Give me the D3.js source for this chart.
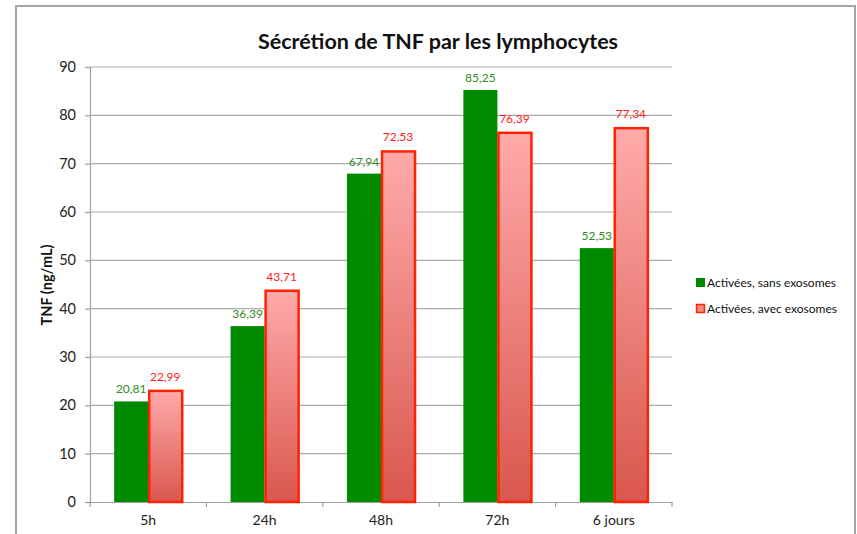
<!DOCTYPE html>
<html><head><meta charset="utf-8">
<script src="https://cdn.jsdelivr.net/npm/d3@7"></script>
<style>body{margin:0;background:#fff}svg{display:block}text{font-family:Lato,"Open Sans",sans-serif}</style>
</head><body><svg id="c" width="857" height="534"></svg>
<script>
const categories = ["5h","24h","48h","72h","6 jours"];
const seriesNames = ["Activées, sans exosomes","Activées, avec exosomes"];
const sansExosomes = [20.81,36.39,67.94,85.25,52.53];
const avecExosomes = [22.99,43.71,72.53,76.39,77.34];
const yTicks = [0,10,20,30,40,50,60,70,80,90];
const labelsSans = ["20,81","36,39","67,94","85,25","52,53"];
const labelsAvec = ["22,99","43,71","72,53","76,39","77,34"];

const svg = d3.select("#c");
const defs = svg.append("defs");
const g = defs.append("linearGradient").attr("id","redgrad").attr("x1",0).attr("y1",0).attr("x2",0).attr("y2",1);
g.append("stop").attr("offset","0%").attr("stop-color","#FFAAAA");
g.append("stop").attr("offset","100%").attr("stop-color","#D9574E");

// outer border
svg.append("rect").attr("x",16).attr("y",6).attr("width",839).attr("height",560)
  .attr("fill","none").attr("stroke","#A6A6A6").attr("stroke-width",2);

const x = d3.scaleBand().domain(categories).range([90,672]).padding(0);
const xs = d3.scaleBand().domain(seriesNames).range([0,x.bandwidth()]).paddingInner(0).paddingOuter(0.71);
const y = d3.scaleLinear().domain([0,90]).range([502,67]);

// gridlines
svg.append("g").selectAll("line").data(yTicks.filter(t=>t>0)).join("line")
  .attr("x1",90).attr("x2",672).attr("y1",d=>y(d)).attr("y2",d=>y(d))
  .attr("stroke","#ABABAB").attr("stroke-width",1.2);

// y axis
const ya = svg.append("g").attr("transform","translate(90,0)")
  .call(d3.axisLeft(y).tickValues(yTicks).tickSize(5).tickPadding(9).tickFormat(d3.format("d")));
ya.select(".domain").attr("stroke","#A0A0A0").attr("stroke-width",1.2);
ya.selectAll(".tick line").attr("stroke","#A0A0A0").attr("stroke-width",1.2);
ya.selectAll("text").attr("font-size",14.5).attr("fill","#222").style("font-family","Lato,sans-serif");

// x axis
const xa = svg.append("g").attr("transform","translate(0,502)")
  .call(d3.axisBottom(x).tickSize(0).tickPadding(13));
xa.select(".domain").attr("stroke","#A0A0A0").attr("stroke-width",1.2);
xa.selectAll(".tick line").remove();
xa.selectAll("text").attr("font-size",14).attr("fill","#222").style("font-family","Lato,sans-serif");
svg.append("g").selectAll("line").data(d3.range(categories.length+1)).join("line")
  .attr("x1",i=>90+i*x.step()).attr("x2",i=>90+i*x.step()).attr("y1",502).attr("y2",507)
  .attr("stroke","#A0A0A0").attr("stroke-width",1.2);

// bars
const sw = xs.bandwidth();
svg.append("g").selectAll("rect").data(categories).join("rect")
  .attr("x",(c)=>x(c)+xs(seriesNames[0]))
  .attr("y",(c,i)=>y(sansExosomes[i]))
  .attr("width",sw).attr("height",(c,i)=>502-y(sansExosomes[i]))
  .attr("fill","#008A00");
svg.append("g").selectAll("rect").data(categories).join("rect")
  .attr("x",(c)=>x(c)+xs(seriesNames[1])+1)
  .attr("y",(c,i)=>y(avecExosomes[i]))
  .attr("width",sw-1).attr("height",(c,i)=>502-y(avecExosomes[i]))
  .attr("fill","url(#redgrad)").attr("stroke","#FF2200").attr("stroke-width",2.5);

// labels
svg.append("g").selectAll("text").data(categories).join("text")
  .attr("x",c=>x(c)+xs(seriesNames[0])+sw/2)
  .attr("y",(c,i)=>y(sansExosomes[i])-8)
  .attr("text-anchor","middle").attr("font-size",12).attr("fill","#2E8B22")
  .text((c,i)=>labelsSans[i]);
svg.append("g").selectAll("text").data(categories).join("text")
  .attr("x",c=>x(c)+xs(seriesNames[1])+sw/2)
  .attr("y",(c,i)=>y(avecExosomes[i])-10)
  .attr("text-anchor","middle").attr("font-size",12).attr("fill","#FF1A1A")
  .text((c,i)=>labelsAvec[i]);

// title
svg.append("text").attr("x",438).attr("y",49).attr("text-anchor","middle")
  .attr("font-size",21.5).attr("font-weight","bold").attr("fill","#111")
  .text("Sécrétion de TNF par les lymphocytes");

// y title
svg.append("text").attr("transform","translate(52,285) rotate(-90)").attr("text-anchor","middle")
  .attr("font-size",14.5).attr("font-weight","bold").attr("fill","#111").text("TNF (ng/mL)");

// legend
const leg = svg.append("g");
leg.append("rect").attr("x",696).attr("y",278).attr("width",9).attr("height",9).attr("fill","#008A00");
leg.append("rect").attr("x",696.5).attr("y",304.5).attr("width",8).attr("height",8)
  .attr("fill","#F08A85").attr("stroke","#FF2200").attr("stroke-width",1.5);
leg.selectAll("text").data(seriesNames).join("text")
  .attr("x",707).attr("y",(d,i)=>287+i*26).attr("font-size",12).attr("fill","#111").text(d=>d);
</script></body></html>
